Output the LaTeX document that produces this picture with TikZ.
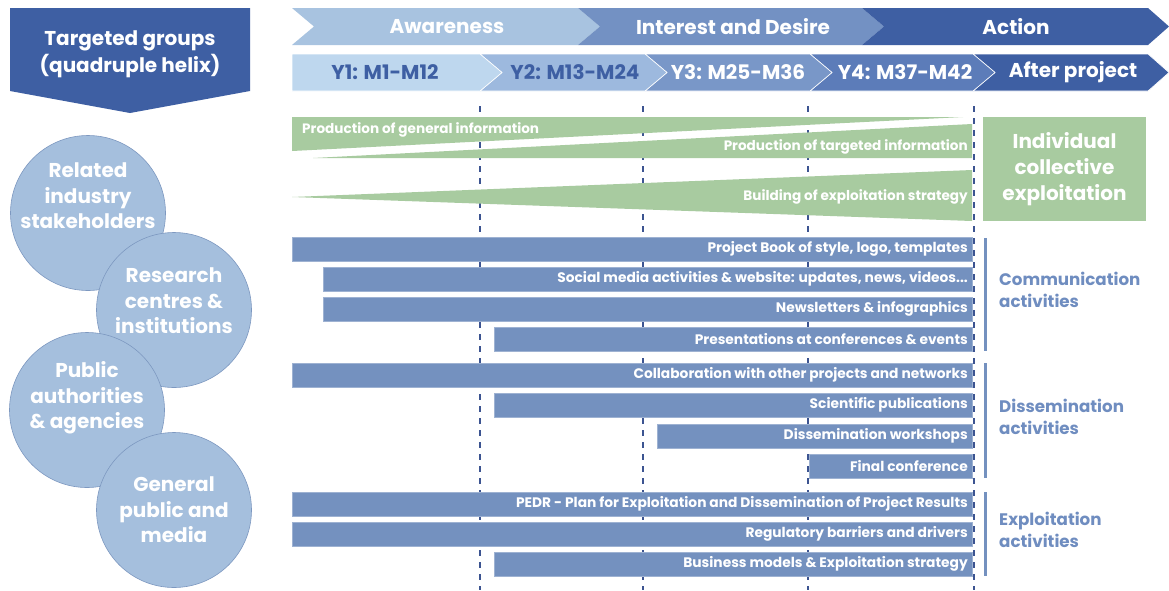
\documentclass[tikz,border=0pt]{standalone}
\usepackage{fontspec}
\setmainfont{Poppins}
\begin{document}
\begin{tikzpicture}[x=1pt,y=-1pt,
  font=\bfseries,
  chev/.style={draw=white,line width=0.6pt},
  headtext/.style={text=white,font=\bfseries\fontsize{20}{27}\selectfont,inner sep=0pt},
  bar/.style={fill=barblue,draw=barblue!70!white,line width=0.5pt},
  bartext/.style={text=white,font=\bfseries\fontsize{13.8}{16}\selectfont,anchor=east,inner sep=0pt},
  greentext/.style={text=white,font=\bfseries\fontsize{13.6}{16}\selectfont,inner sep=0pt},
  grp/.style={circle,fill=circblue,draw=circedge,line width=0.6pt,minimum size=155pt,inner sep=0pt},
  grptext/.style={align=center,text=white,inner sep=0pt,font=\bfseries\fontsize{20}{25.5}\selectfont},
  acttext/.style={text=labelblue,font=\bfseries\fontsize{16.7}{21.5}\selectfont,anchor=north west,
    align=left,inner sep=0pt},
  brace/.style={draw=barblue,line width=3pt},
  yearline/.style={draw=lineblue,line width=1.3pt,dash pattern=on 6pt off 6pt},
]
\definecolor{darkblue}{RGB}{62,95,163}
\definecolor{awblue}{RGB}{168,195,224}
\definecolor{inblue}{RGB}{115,145,195}
\definecolor{yone}{RGB}{190,215,238}
\definecolor{ytwo}{RGB}{157,185,222}
\definecolor{ythree}{RGB}{121,151,200}
\definecolor{yfour}{RGB}{92,124,185}
\definecolor{sage}{RGB}{168,203,160}
\definecolor{barblue}{RGB}{116,145,191}
\definecolor{circblue}{RGB}{165,191,221}
\definecolor{circedge}{RGB}{125,152,192}
\definecolor{labelblue}{RGB}{111,141,192}
\definecolor{lineblue}{RGB}{60,84,145}

\useasboundingbox[fill=white] (0,0) rectangle (1169,590);

% header arrow
\fill[darkblue] (10,8) -- (250,8) -- (250,91) -- (130,113) -- (10,91) -- cycle;
\node[headtext,align=center] (head) at (130,54) {Targeted groups\\(quadruple helix)};

% phase chevrons
\fill[awblue]   (292,8) -- (578,8) -- (600,26.5) -- (578,45) -- (292,45) -- (314,26.5) -- cycle;
\fill[inblue]   (578,8) -- (862,8) -- (884,26.5) -- (862,45) -- (578,45) -- (600,26.5) -- cycle;
\fill[darkblue] (862,8) -- (1148,8) -- (1169,26.5) -- (1148,45) -- (862,45) -- (884,26.5) -- cycle;
\node[headtext] (aw) at (447,26.5) {Awareness};
\node[headtext] (int) at (733,26.5) {Interest and Desire};
\node[headtext] (act) at (1016,26.5) {Action};

% year chevrons
\path[chev,fill=darkblue] (973,54) -- (1148,54) -- (1169,72.5) -- (1148,91) -- (973,91) -- (995,72.5) -- cycle;
\path[chev,fill=yfour]   (810,54) -- (973,54) -- (995,72.5) -- (973,91) -- (810,91) -- (832,72.5) -- cycle;
\path[chev,fill=ythree]  (645,54) -- (810,54) -- (832,72.5) -- (810,91) -- (645,91) -- (667,72.5) -- cycle;
\path[chev,fill=ytwo]    (480,54) -- (645,54) -- (667,72.5) -- (645,91) -- (480,91) -- (502,72.5) -- cycle;
\path[chev,fill=yone]    (292,54) -- (480,54) -- (502,72.5) -- (480,91) -- (292,91) -- cycle;
\node[headtext,text=darkblue] (y1) at (385,72.5) {Y1: M1-M12};
\node[headtext,text=darkblue] (y2) at (575,72.5) {Y2: M13-M24};
\node[headtext] (y3) at (738,72.5) {Y3: M25-M36};
\node[headtext] (y4) at (905,72.5) {Y4: M37-M42};
\node[headtext] (after) at (1073,72.5) {After project};

% year boundaries
\foreach \x in {480,643,808,974}
  \draw[yearline] (\x,106) -- (\x,590);

% information wedges
\fill[sage] (292,117) -- (963,117) -- (292,151) -- cycle;
\fill[sage] (313,158) -- (972,124) -- (972,158) -- cycle;
\fill[sage] (292,197) -- (972,170) -- (972,221) -- cycle;
\node[greentext,anchor=west] (gen) at (302,130) {Production of general information};
\node[greentext,anchor=east] (tgt) at (968,147) {Production of targeted information};
\node[greentext,anchor=east] (bld) at (968,197) {Building of exploitation strategy};

\node[fill=sage,minimum width=163pt,minimum height=104pt,inner sep=0pt,align=center,
  text=white,font=\bfseries\fontsize{20}{26}\selectfont] (indiv) at (1064.5,169)
  {Individual\\collective\\exploitation};

% communication activities
\path[bar] (292,237) rectangle (972,261);
\path[bar] (323,267) rectangle (972,291);
\path[bar] (323,297) rectangle (972,321);
\path[bar] (494,327) rectangle (972,351);
\node[bartext] (c1) at (968,249) {Project Book of style, logo, templates};
\node[bartext] (c2) at (968,279) {Social media activities \& website: updates, news, videos...};
\node[bartext] (c3) at (968,309) {Newsletters \& infographics};
\node[bartext] (c4) at (968,339) {Presentations at conferences \& events};
\path[brace] (985,238) -- (985,351);
\node[acttext] (comm) at (999,272) {Communication\\activities};

% dissemination activities
\path[bar] (292,363) rectangle (972,387);
\path[bar] (494,393) rectangle (972,417);
\path[bar] (657,424) rectangle (972,448);
\path[bar] (809,454) rectangle (972,478);
\node[bartext] (d1) at (968,375) {Collaboration with other projects and networks};
\node[bartext] (d2) at (968,405) {Scientific publications};
\node[bartext] (d3) at (968,436) {Dissemination workshops};
\node[bartext] (d4) at (968,466) {Final conference};
\path[brace] (985,363) -- (985,478);
\node[acttext] (diss) at (999,399) {Dissemination\\activities};

% exploitation activities
\path[bar] (292,492) rectangle (972,516);
\path[bar] (292,522) rectangle (972,546);
\path[bar] (494,552) rectangle (972,576);
\node[bartext] (e1) at (968,504) {PEDR - Plan for Exploitation and Dissemination of Project Results};
\node[bartext] (e2) at (968,534) {Regulatory barriers and drivers};
\node[bartext] (e3) at (968,564) {Business models \& Exploitation strategy};
\path[brace] (985,492) -- (985,576);
\node[acttext] (expl) at (999,512) {Exploitation\\activities};

% targeted groups: discs first, labels on top
\node[grp] (g1) at (88,213) {};
\node[grp] (g2) at (174,310) {};
\node[grp] (g3) at (87,410) {};
\node[grp] (g4) at (174,510) {};
\node[grptext] (t1) at (88,196) {Related\\industry\\stakeholders};
\node[grptext] (t2) at (174,301) {Research\\centres \&\\institutions};
\node[grptext] (t3) at (87,398) {Public\\authorities\\\& agencies};
\node[grptext] (t4) at (174,510) {General\\public and\\media};
\end{tikzpicture}
\end{document}
